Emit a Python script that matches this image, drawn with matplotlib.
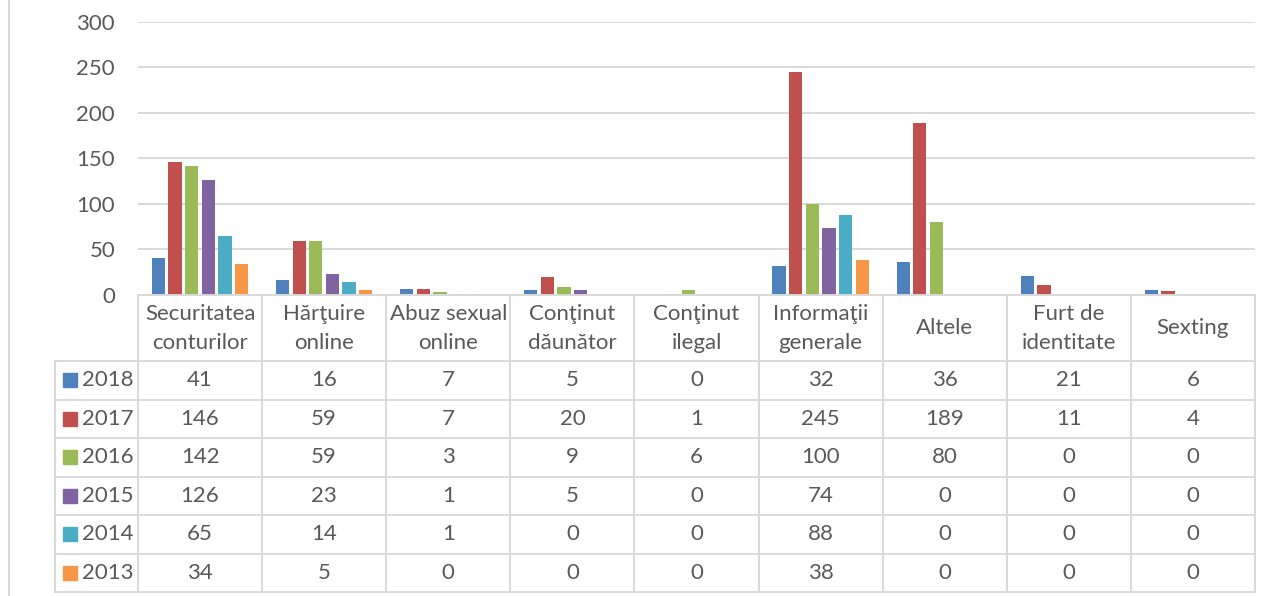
import numpy as np
import matplotlib
matplotlib.use('Agg')
import matplotlib.pyplot as plt
from matplotlib.patches import Rectangle

# Data
categories = ['Securitatea\nconturilor', 'Hărţuire\nonline', 'Abuz sexual\nonline',
              'Conţinut\ndăunător', 'Conţinut\nilegal', 'Informaţii\ngenerale',
              'Altele', 'Furt de\nidentitate', 'Sexting']
years = ['2018', '2017', '2016', '2015', '2014', '2013']
v2018 = [41, 16, 7, 5, 0, 32, 36, 21, 6]
v2017 = [146, 59, 7, 20, 1, 245, 189, 11, 4]
v2016 = [142, 59, 3, 9, 6, 100, 80, 0, 0]
v2015 = [126, 23, 1, 5, 0, 74, 0, 0, 0]
v2014 = [65, 14, 1, 0, 0, 88, 0, 0, 0]
v2013 = [34, 5, 0, 0, 0, 38, 0, 0, 0]
series = [v2018, v2017, v2016, v2015, v2014, v2013]
colors = ['#4F81BD', '#C0504D', '#9BBB59', '#8064A2', '#4BACC6', '#F79646']
yticks = [0, 50, 100, 150, 200, 250, 300]

plt.rcParams['font.family'] = ['Lato', 'DejaVu Sans']
txt_col = '#595959'
grid_col = '#D9D9D9'
fs = 16

W, H = 1271, 596
fig = plt.figure(figsize=(W / 100, H / 100), dpi=100, facecolor='white')

# plot area (pixel layout)
left, right, top, base = 138, 1255, 22, 295
ax = fig.add_axes([left / W, 1 - base / H, (right - left) / W, (base - top) / H])
ax.set_xlim(-0.5, len(categories) - 0.5)
ax.set_ylim(0, 300)
ax.set_yticks(yticks)
ax.set_xticks([])
for s in ax.spines.values():
    s.set_visible(False)
ax.tick_params(axis='y', length=0, pad=16.5, labelsize=fs, labelcolor=txt_col)
ax.yaxis.grid(True, color=grid_col, linewidth=1.4)
ax.set_axisbelow(True)

x = np.arange(len(categories))
step = 0.134
bw = 0.107
for i, (vals, c) in enumerate(zip(series, colors)):
    ax.bar(x + (i - 2.5) * step, vals, width=bw, color=c, zorder=3)

# data table below the plot, y in pixel units
tax = fig.add_axes([left / W, 0, (right - left) / W, (H - base) / H])
tax.set_xlim(-0.5, len(categories) - 0.5)
tax.set_ylim(H, base)
tax.axis('off')

rows = [361, 399.5, 438, 476.5, 515, 553.5, 592]
col_w = (right - left) / len(categories)
leg_left = -0.5 - (left - 55) / col_w
lkw = dict(color=grid_col, linewidth=1.4, clip_on=False)

# horizontal lines
tax.plot([-0.5, len(categories) - 0.5], [base, base], **lkw)
for r in rows:
    tax.plot([leg_left, len(categories) - 0.5], [r, r], **lkw)
# vertical lines
for k in range(len(categories) + 1):
    tax.plot([k - 0.5, k - 0.5], [base, rows[-1]], **lkw)
tax.plot([leg_left, leg_left], [rows[0], rows[-1]], **lkw)

# header
for k, lab in enumerate(categories):
    tax.text(k, (base + rows[0]) / 2 + 0.5, lab, ha='center', va='center', fontsize=fs,
             color=txt_col, linespacing=1.57, clip_on=False)

# body
sq = (77 - 63) / col_w
for j, (yr, vals, c) in enumerate(zip(years, series, colors)):
    yc = (rows[j] + rows[j + 1]) / 2
    tax.add_patch(Rectangle((leg_left + (63 - 55) / col_w, yc - 7), sq, 14,
                            color=c, clip_on=False))
    tax.text(leg_left + (82 - 55) / col_w, yc, yr, ha='left', va='center',
             fontsize=fs, color=txt_col, clip_on=False)
    for k, v in enumerate(vals):
        tax.text(k, yc, str(v), ha='center', va='center', fontsize=fs,
                 color=txt_col, clip_on=False)

# chart frame left edge
fig.add_artist(plt.Line2D([9 / W, 9 / W], [0, 1], color=grid_col, linewidth=1.4))

fig.savefig('out.png', dpi=100, facecolor='white')
